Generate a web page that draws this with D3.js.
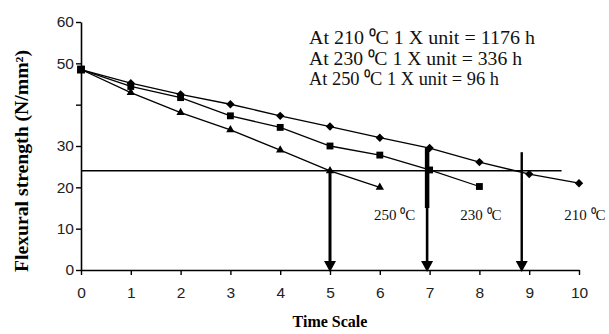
<!DOCTYPE html>
<html><head><meta charset="utf-8">
<script src="https://cdn.jsdelivr.net/npm/d3@7"></script>
<style>body{margin:0;background:#fff}svg{display:block}</style>
</head><body>
<script>
const time210 = [0,1,2,3,4,5,6,7,8,9,10];
const strength210 = [48.5,45.2,42.5,40.1,37.3,34.7,32.0,29.5,26.1,23.2,21.0];
const time230 = [0,1,2,3,4,5,6,7,8];
const strength230 = [48.5,44.4,41.7,37.3,34.5,30.0,27.8,24.2,20.2];
const time250 = [0,1,2,3,4,5,6];
const strength250 = [48.5,42.9,38.1,33.9,29.0,24.0,20.0];
const xTicks = [0,1,2,3,4,5,6,7,8,9,10];
const yTicks = [0,10,20,30,40,50,60];
const yTickLabels = ["0","10","20","30","","50","60"];
const threshold = 24;
const thresholdEnd = 9.65;
const arrowX = [5, 6.95, 8.85];
const arrowTop = [24, 29.5, 28.5];
const seriesLabels = ["250 \u2070C","230 \u2070C","210 \u2070C"];
const labelX = [6.3, 8.03, 10.12];
const notes = ["At 210 \u2070C 1 X unit = 1176 h","At 230 \u2070C 1 X unit = 336 h","At 250 \u2070C 1 X unit = 96 h"];

const W=609,H=334;
const svg=d3.select("body").append("svg").attr("width",W).attr("height",H);
const x=d3.scaleLinear().domain([0,10]).range([81,579]);
const y=d3.scaleLinear().domain([0,60]).range([270,22]);

// axes
const gx=svg.append("g").attr("transform","translate(0,270)")
 .call(d3.axisBottom(x).tickValues(xTicks).tickFormat(d3.format("d")).tickSizeInner(5).tickSizeOuter(0));
const gy=svg.append("g").attr("transform","translate(81,0)")
 .call(d3.axisLeft(y).tickValues(yTicks).tickFormat((d,i)=>yTickLabels[i]).tickSizeInner(5).tickSizeOuter(0));
[gx,gy].forEach(g=>{
  g.select(".domain").attr("stroke","#000").attr("stroke-width",1.6);
  g.selectAll(".tick line").attr("stroke","#000").attr("stroke-width",1.4);
  g.selectAll(".tick text").attr("font-family","Liberation Sans, Arial, sans-serif").attr("font-size",15.5).attr("fill","#222");
});
gx.selectAll(".tick text").attr("dy","1.3em");
gy.selectAll(".tick text").attr("dx","1px");

// threshold line
svg.append("line").attr("x1",x(0)).attr("x2",x(thresholdEnd)).attr("y1",y(threshold)).attr("y2",y(threshold))
 .attr("stroke","#000").attr("stroke-width",1.4);

// series lines
const line=d3.line().x(d=>x(d[0])).y(d=>y(d[1]));
const series=[
 {t:time210,v:strength210,sym:d3.symbolDiamond2,size:45},
 {t:time230,v:strength230,sym:d3.symbolSquare2,size:60},
 {t:time250,v:strength250,sym:d3.symbolTriangle2,size:50}
];
series.forEach(s=>{
  const pts=s.t.map((t,i)=>[t,s.v[i]]);
  svg.append("path").attr("d",line(pts)).attr("fill","none").attr("stroke","#000").attr("stroke-width",1.3);
});
series.forEach(s=>{
  const pts=s.t.map((t,i)=>[t,s.v[i]]);
  svg.selectAll(null).data(pts.slice(1)).enter().append("path")
   .attr("d",d3.symbol().type(s.sym).size(s.size))
   .attr("transform",d=>`translate(${x(d[0])},${y(d[1])})`)
   .attr("fill","#000");
});
svg.append("path").attr("d",d3.symbol().type(d3.symbolSquare2).size(80))
 .attr("transform",`translate(${x(0)},${y(48.5)})`).attr("fill","#000");

// arrows
const widths=[3,2.6,2.4];
arrowX.forEach((ax,i)=>{
  svg.append("line").attr("x1",x(ax)).attr("x2",x(ax)).attr("y1",y(arrowTop[i])).attr("y2",y(0)-6)
   .attr("stroke","#000").attr("stroke-width",widths[i]);
  const cx=x(ax), tip=y(0)+2;
  svg.append("path").attr("d",`M${cx-6},${tip-11}L${cx+6},${tip-11}L${cx},${tip}Z`).attr("fill","#000");
});
// thicker upper part at 7
svg.append("line").attr("x1",x(arrowX[1])).attr("x2",x(arrowX[1])).attr("y1",y(arrowTop[1])).attr("y2",208)
 .attr("stroke","#000").attr("stroke-width",4.5);

// series labels
svg.selectAll(null).data(seriesLabels).enter().append("text")
 .attr("x",(d,i)=>x(labelX[i])).attr("y",220).attr("text-anchor","middle")
 .attr("font-family","Liberation Serif, Times New Roman, serif").attr("font-size",15).attr("fill","#111")
 .text(d=>d);

// notes
const noteLen=[226,213,190];
svg.selectAll(null).data(notes).enter().append("text")
 .attr("x",309).attr("y",(d,i)=>44+i*20.5)
 .attr("font-family","Liberation Serif, Times New Roman, serif").attr("font-size",18.5).attr("fill","#111")
 .attr("textLength",(d,i)=>noteLen[i]).attr("lengthAdjust","spacingAndGlyphs")
 .text(d=>d);

// axis titles
svg.append("text").attr("x",330).attr("y",327).attr("text-anchor","middle")
 .attr("font-family","Liberation Serif, Times New Roman, serif").attr("font-weight","bold").attr("font-size",16)
 .text("Time Scale");
svg.append("text").attr("transform","translate(28,161) rotate(-90)").attr("text-anchor","middle")
 .attr("font-family","Liberation Serif, Times New Roman, serif").attr("font-weight","bold").attr("font-size",18)
 .attr("textLength",222).attr("lengthAdjust","spacingAndGlyphs")
 .text("Flexural strength (N/mm\u00B2)");
</script>
</body></html>
